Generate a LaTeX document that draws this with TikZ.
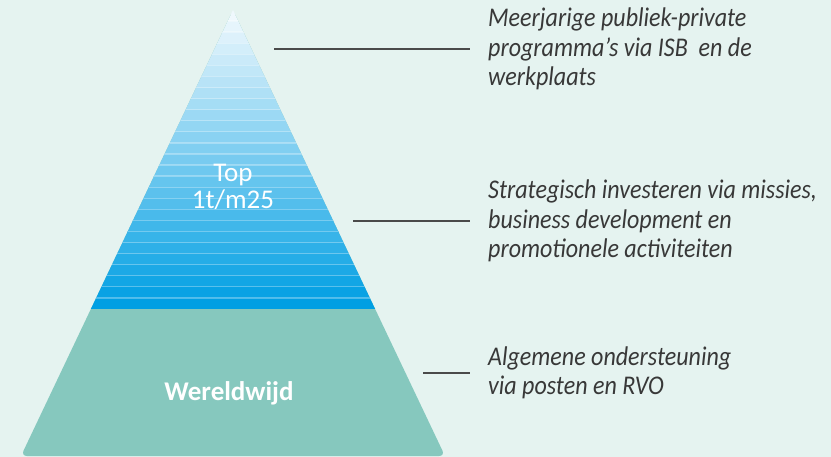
\documentclass[tikz,border=0pt]{standalone}
\usepackage{fontspec}
\setmainfont{Carlito}
\newfontfamily\notefont[FakeStretch=0.89]{Carlito}
\definecolor{bgmint}{HTML}{E5F3F0}
\definecolor{tealbase}{HTML}{86C8BE}
\definecolor{blueL}{HTML}{EFF8FD}
\definecolor{blueD}{HTML}{009FE3}
\definecolor{notegrey}{HTML}{383838}
\definecolor{leadgrey}{HTML}{4A4A4A}
\tikzset{
  plabel/.style={text=white, align=center, inner sep=0pt},
  note/.style={anchor=west, inner sep=0pt, align=left, text=notegrey,
    font=\notefont\itshape\fontsize{27}{29.5}\selectfont},
  leader/.style={draw=leadgrey, line width=1.6pt}
}
\begin{document}
\begin{tikzpicture}[x=1pt,y=-1pt]
\fill[bgmint] (0,0) rectangle (831,457);
\useasboundingbox (0,0) rectangle (831,457);
% pyramid
\coordinate (apex) at (233,10);
\coordinate (bl) at (21,456);
\coordinate (br) at (445,456);
\fill[tealbase, rounded corners=6pt] (apex) -- (br) -- (bl) -- cycle;
\begin{scope}
\clip (apex) -- (br) -- (bl) -- cycle;
\foreach \i in {0,...,26} {
  \pgfmathsetmacro{\p}{100*\i/26}
  \colorlet{bandc}{blueD!\p!blueL}
  \fill[bandc] (0,{10+\i*11.074}) rectangle (831,{10+(\i+1)*11.074+0.4});
}
\foreach \i in {1,...,26}
  \draw[white, opacity=0.3, line width=1.3pt] (0,{10+\i*11.074}) -- (831,{10+\i*11.074});
\end{scope}
\node[plabel, font=\fontsize{27}{27}\selectfont] (top) at (233,187) {Top\\1t/m25};
\node[plabel, anchor=base, font=\bfseries\fontsize{27}{27}\selectfont] (world) at (229,400) {Wereldwijd};
% notes
\node[note] (note1) at (488,49) {Meerjarige publiek-private\\programma’s via ISB\ \ en de\\werkplaats};
\node[note] (note2) at (488,221) {Strategisch investeren via missies,\\business development en\\promotionele activiteiten};
\node[note] (note3) at (488,373) {Algemene ondersteuning\\via posten en RVO};
\coordinate (c1) at (274,49);
\coordinate (c2) at (353,221);
\coordinate (c3) at (423,373);
\draw[leader] (c1) -- ([xshift=-18pt]note1.west);
\draw[leader] (c2) -- ([xshift=-18pt]note2.west);
\draw[leader] (c3) -- ([xshift=-18pt]note3.west);
\end{tikzpicture}
\end{document}
